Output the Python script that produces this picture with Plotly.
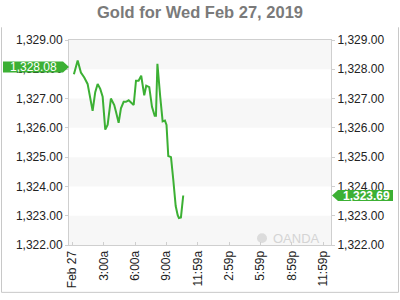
import plotly.graph_objects as go

# Gold spot price, Feb 27 2019 (hours after midnight, USD)
hours = [0.14, 0.50, 0.81, 1.13, 1.45, 1.93, 2.18, 2.41, 2.66, 2.89, 3.14, 3.37,
         3.68, 4.00, 4.16, 4.42, 4.64, 4.90, 5.12, 5.38, 5.63, 5.86, 6.08, 6.33,
         6.58, 6.87, 7.06, 7.35, 7.61, 7.87, 7.99, 8.13, 8.40, 8.54, 8.63, 8.85,
         9.00, 9.17, 9.43, 9.65, 9.88, 10.07, 10.19, 10.38, 10.60]
prices = [1327.83, 1328.30, 1327.89, 1327.72, 1327.50, 1326.58, 1327.22, 1327.50,
          1327.33, 1327.06, 1325.94, 1326.11, 1327.00, 1326.78, 1326.56, 1326.17,
          1326.67, 1326.89, 1326.89, 1326.94, 1326.86, 1326.78, 1327.61, 1327.61,
          1327.78, 1327.11, 1327.44, 1327.39, 1326.72, 1326.41, 1326.41, 1328.19,
          1327.06, 1326.50, 1326.22, 1326.25, 1326.10, 1325.04, 1325.00, 1324.22,
          1323.33, 1323.02, 1322.92, 1322.94, 1323.69]
open_price = 1328.08

x_tick_vals = [0, 3, 6, 9, 11.983, 14.983, 17.983, 20.983, 23.983]
x_tick_text = ["Feb 27", "3:00a", "6:00a", "9:00a", "11:59a", "2:59p", "5:59p", "8:59p", "11:59p"]
y_tick_vals = [1322, 1323, 1324, 1325, 1326, 1327, 1328, 1329]

GREEN = "#3cb034"
AXIS_GRAY = "#cfcfcf"
W, H = 400, 300
ML, MR, MT, MB = 69, 69, 40, 50
PW, PH = W - ML - MR, H - MT - MB


def px_x(px):
    return (px - ML) / PW


def px_y(py):
    return (H - MB - py) / PH


fig = go.Figure()
fig.add_trace(go.Scatter(x=hours, y=prices, mode="lines",
                         line=dict(color=GREEN, width=2), hoverinfo="skip"))
fig.add_trace(go.Scatter(x=hours, y=prices, mode="lines", yaxis="y2",
                         opacity=0, hoverinfo="skip", showlegend=False))

shapes = []
# alternating horizontal bands
for lo in y_tick_vals[:-1:2]:
    shapes.append(dict(type="rect", xref="paper", yref="y", x0=0, x1=1,
                       y0=lo, y1=lo + 1, fillcolor="#f7f7f7", line_width=0,
                       layer="below"))

# outer frame (sides and bottom)
for (x0, y0, x1, y1) in [(1.5, 27, 1.5, 298.5), (398.5, 27, 398.5, 298.5),
                         (1.5, 298.5, 398.5, 298.5)]:
    shapes.append(dict(type="line", xref="paper", yref="paper",
                       x0=px_x(x0), y0=px_y(y0), x1=px_x(x1), y1=px_y(y1),
                       line=dict(color="#c8c8c8", width=1)))

half = 0.19  # half height of value tags in price units
last_price = prices[-1]

# opening price tag on the left
shapes.append(dict(type="rect", xref="paper", yref="y",
                   x0=px_x(3), x1=px_x(63), y0=open_price - half, y1=open_price + half,
                   fillcolor=GREEN, line_width=0))
shapes.append(dict(type="path", xref="paper", yref="y",
                   path=f"M {px_x(63)} {open_price + half} L {px_x(69)} {open_price} "
                        f"L {px_x(63)} {open_price - half} Z",
                   fillcolor=GREEN, line_width=0))
# last price tag on the right
shapes.append(dict(type="rect", xref="paper", yref="y",
                   x0=px_x(338), x1=px_x(393), y0=last_price - half, y1=last_price + half,
                   fillcolor=GREEN, line_width=0))
shapes.append(dict(type="path", xref="paper", yref="y",
                   path=f"M {px_x(338)} {last_price + half} L {px_x(332)} {last_price} "
                        f"L {px_x(338)} {last_price - half} Z",
                   fillcolor=GREEN, line_width=0))
# watermark logo circle
shapes.append(dict(type="circle", xref="paper", yref="paper",
                   x0=px_x(257), x1=px_x(267), y0=px_y(248), y1=px_y(238),
                   fillcolor="#dcdcdc", line_width=0, layer="below"))

annotations = [
    dict(text=f"{open_price:,.2f}", xref="paper", yref="y", x=px_x(33), y=open_price,
         showarrow=False, font=dict(color="white", size=12, family="Liberation Sans, Arial"),
         xanchor="center", yanchor="middle"),
    dict(text=f"<b>{last_price:,.2f}</b>", xref="paper", yref="y", x=px_x(366), y=last_price,
         showarrow=False, font=dict(color="white", size=12, family="Liberation Sans, Arial"),
         xanchor="center", yanchor="middle"),
    dict(text="OANDA", xref="paper", yref="paper", x=px_x(296), y=px_y(243),
         showarrow=False, font=dict(color="#d4d4d4", size=13, family="Liberation Sans, Arial"),
         xanchor="center", yanchor="middle"),
]

tick_font = dict(family="Liberation Sans, Arial", size=12, color="#222222")
yaxis_common = dict(range=[1322, 1329], tickvals=y_tick_vals, tickformat=",.2f",
                    showgrid=False, zeroline=False, ticks="outside", ticklen=3,
                    tickcolor=AXIS_GRAY, tickfont=tick_font, fixedrange=True)

fig.update_layout(
    width=W, height=H, autosize=False,
    margin=dict(l=ML, r=MR, t=MT, b=MB),
    paper_bgcolor="white", plot_bgcolor="white",
    showlegend=False,
    title=dict(text="<b>Gold for Wed Feb 27, 2019</b>", x=0.5, xanchor="center",
               y=1 - 12.5 / H, yanchor="middle", yref="container",
               font=dict(family="Liberation Sans, Arial", size=16.5, color="#7a7a7a")),
    xaxis=dict(range=[-0.33, 24.74], tickvals=x_tick_vals, ticktext=x_tick_text,
               tickangle=-90, ticks="inside", ticklen=3, tickcolor=AXIS_GRAY,
               showgrid=False, zeroline=False, showline=True, linecolor=AXIS_GRAY,
               mirror=True, tickfont=tick_font, fixedrange=True),
    yaxis=dict(side="left", showline=True, linecolor=AXIS_GRAY, mirror=True,
               **yaxis_common),
    yaxis2=dict(side="right", overlaying="y", showline=False, **yaxis_common),
    shapes=shapes,
    annotations=annotations,
)

fig.write_html("out.html")
